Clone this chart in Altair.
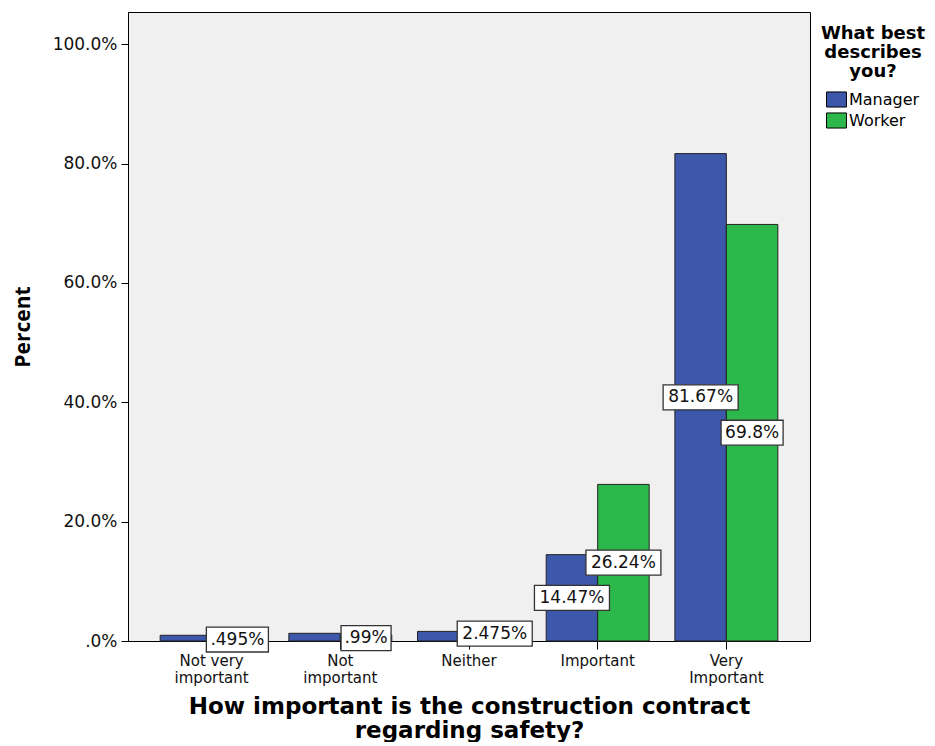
import json
import altair as alt
import pandas as pd

categories = ["Not very important", "Not important", "Neither", "Important", "Very Important"]
category_lines = [["Not very", "important"], ["Not", "important"], ["Neither"], ["Important"], ["Very", "Important"]]
groups = ["Manager", "Worker"]
manager_pct = [0.96, 1.29, 1.61, 14.47, 81.67]
worker_pct = [0.495, 0.99, 2.475, 26.24, 69.80]
manager_labels = ["", "", "", "14.47%", "81.67%"]
worker_labels = [".495%", ".99%", "2.475%", "26.24%", "69.8%"]
group_colors = ["#3d57aa", "#2db84b"]
y_ticks = [0, 20, 40, 60, 80, 100]

rows = []
for i, c in enumerate(categories):
    rows.append({"category": c, "group": "Manager", "pct": manager_pct[i], "label": manager_labels[i]})
    rows.append({"category": c, "group": "Worker", "pct": worker_pct[i], "label": worker_labels[i]})
df = pd.DataFrame(rows)
df["box"] = df["label"].str.len().astype(str)

# label box shapes (symbol paths) by label length
box_widths = {"4": 50, "5": 62, "6": 75}
R = 37.5
hh = 12.5 / R
box_domain = list(box_widths.keys())
box_paths = []
for k in box_domain:
    hw = box_widths[k] / 2 / R
    box_paths.append(f"M{-hw:.3f},{-hh:.3f}L{hw:.3f},{-hh:.3f}L{hw:.3f},{hh:.3f}L{-hw:.3f},{hh:.3f}Z")

label_map = json.dumps({c: l for c, l in zip(categories, category_lines)})

PLOT_W = 682
PLOT_H = 629

x_enc = alt.X(
    "category:N",
    sort=categories,
    scale=alt.Scale(paddingInner=0.2, paddingOuter=0.25),
    axis=alt.Axis(
        title=["How important is the construction contract", "regarding safety?"],
        titleFont="DejaVu Sans",
        titleFontWeight="bold",
        titleFontSize=23,
        titleLineHeight=24,
        titleColor="#000",
        titlePadding=10,
        labelExpr=f"{label_map}[datum.value]",
        labelAngle=0,
        labelFont="DejaVu Sans",
        labelFontSize=15,
        labelLineHeight=17,
        labelColor="#111",
        labelPadding=4,
        tickSize=8,
        tickColor="#000",
        domainColor="#000",
        labelBaseline="top",
    ),
)
xoff_enc = alt.XOffset("group:N", sort=groups, scale=alt.Scale(paddingInner=0, paddingOuter=0))

y_scale = alt.Scale(domain=[0, 105.4], nice=False)

bars = alt.Chart(df).mark_bar(stroke="#222", strokeWidth=1).encode(
    x=x_enc,
    xOffset=xoff_enc,
    y=alt.Y(
        "pct:Q",
        scale=y_scale,
        axis=alt.Axis(
            title="Percent",
            titleFont="Open Sans",
            titleFontWeight="bold",
            titleFontSize=21,
            titleColor="#000",
            titlePadding=19,
            values=y_ticks,
            labelExpr="datum.value == 0 ? '.0%' : format(datum.value, '.1f') + '%'",
            labelFont="DejaVu Sans",
            labelFontSize=17,
            labelColor="#111",
            labelPadding=4,
            tickSize=7,
            tickColor="#000",
            domainColor="#000",
            grid=False,
        ),
    ),
    color=alt.Color(
        "group:N",
        sort=groups,
        scale=alt.Scale(domain=groups, range=group_colors),
        legend=alt.Legend(
            title=["What best", "describes", "you?"],
            orient="none",
            legendX=PLOT_W + 11,
            legendY=13,
            titleFont="DejaVu Sans",
            titleFontWeight="bold",
            titleFontSize=18,
            titleLineHeight=19,
            titleAlign="center",
            titleAnchor="middle",
            titleColor="#000",
            titlePadding=9,
            labelFont="DejaVu Sans",
            labelFontSize=16,
            labelColor="#000",
            labelOffset=3,
            symbolType="M-1.15,-0.87L1.15,-0.87L1.15,0.87L-1.15,0.87Z",
            symbolSize=300,
            symbolStrokeColor="#000",
            symbolStrokeWidth=1,
            symbolOpacity=1,
            rowPadding=0,
            padding=0,
        ),
    ),
)

labelled = alt.Chart(df).transform_filter("datum.label != ''").transform_calculate(mid="datum.pct / 2")

boxes = labelled.mark_point(filled=True, fill="white", stroke="#333", strokeWidth=1.3, size=R * R * 4, opacity=1).encode(
    x=alt.X("category:N", sort=categories),
    xOffset=alt.XOffset("group:N", sort=groups),
    y=alt.Y("mid:Q", scale=y_scale),
    shape=alt.Shape("box:N", scale=alt.Scale(domain=box_domain, range=box_paths), legend=None),
)

texts = labelled.mark_text(font="DejaVu Sans", fontSize=17, color="#111", baseline="middle", align="center").encode(
    x=alt.X("category:N", sort=categories),
    xOffset=alt.XOffset("group:N", sort=groups),
    y=alt.Y("mid:Q", scale=y_scale),
    text="label:N",
)

chart = (
    alt.layer(bars, boxes, texts)
    .properties(width=PLOT_W, height=PLOT_H, padding={"left": 4, "top": 4, "right": 0, "bottom": 0}, background="white")
    .configure_view(fill="#f0f0f0", stroke="#000", strokeWidth=1)
)

chart.save("out.html", embed_options={"renderer": "svg", "actions": False})
